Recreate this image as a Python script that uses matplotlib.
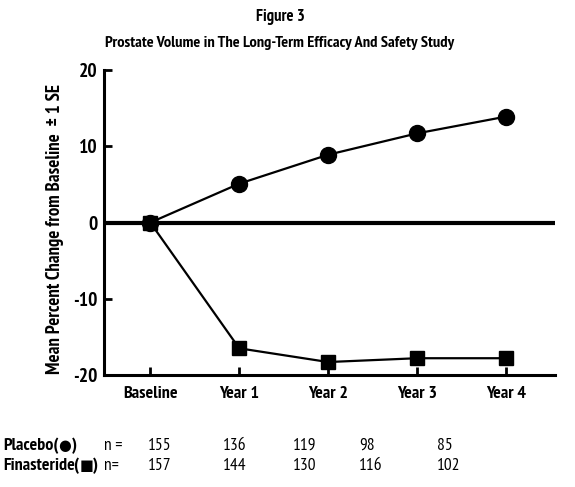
import numpy as np
import matplotlib.pyplot as plt

timepoints = ['Baseline', 'Year 1', 'Year 2', 'Year 3', 'Year 4']
placebo = [0, 5.1, 8.9, 11.7, 13.9]
finasteride = [0, -16.5, -18.3, -17.8, -17.8]
placebo_n = [155, 136, 119, 98, 85]
finasteride_n = [157, 144, 130, 116, 102]

plt.rcParams['font.family'] = ['PT Sans Narrow', 'DejaVu Sans']

fig = plt.figure(figsize=(5.75, 4.87), dpi=100)
ax = fig.add_axes([0.181, 0.230, 0.784, 0.626])

x = np.arange(len(timepoints))
ax.axhline(0, color='black', lw=3, zorder=1)
ax.plot(x, placebo, color='black', lw=1.6, marker='o', markersize=11.5, zorder=3)
ax.plot(x, finasteride, color='black', lw=1.6, marker='s', markersize=9.5, zorder=4)

ax.set_xlim(-0.52, 4.55)
ax.set_ylim(-20, 20)
ax.set_yticks([-20, -10, 0, 10, 20])
ax.set_yticklabels(['-20', '-10', '0', '10', '20'], fontsize=14, fontweight='bold')
ax.set_xticks(x)
ax.set_xticklabels(timepoints, fontsize=13, fontweight='bold')
ax.tick_params(direction='in', width=2, length=6)
ax.tick_params(axis='x', pad=8)
ax.tick_params(axis='y', pad=4.5)
for s in ['top', 'right']:
    ax.spines[s].set_visible(False)
for s in ['left', 'bottom']:
    ax.spines[s].set_linewidth(2.2)

ax.set_ylabel('Mean Percent Change from Baseline  \u00b1 1 SE', fontsize=13.5,
              fontweight='bold')
ax.yaxis.set_label_coords(-0.09, 0.48)

fig.text(0.487, 1 - 17 / 487, 'Figure 3', ha='center', va='center', fontsize=12, fontweight='bold')
fig.text(0.487, 1 - 43 / 487, 'Prostate Volume in The Long-Term Efficacy And Safety Study',
         ha='center', va='center', fontsize=11.8, fontweight='bold')

# n table below chart
row_y = [1 - 446 / 487, 1 - 466 / 487]
fig.text(0.005, row_y[0], 'Placebo(', fontsize=13, fontweight='bold', va='center')
fig.text(58 / 575, row_y[0], '\u25cf', fontsize=10.5, va='center', family='DejaVu Sans')
fig.text(72 / 575, row_y[0], ')', fontsize=13, fontweight='bold', va='center')
fig.text(0.005, row_y[1], 'Finasteride', fontsize=13, fontweight='bold', va='center')
fig.text(73 / 575, row_y[1], '(', fontsize=13, fontweight='bold', va='center')
fig.text(80 / 575, row_y[1], '\u25a0', fontsize=10.5, va='center', family='DejaVu Sans')
fig.text(93 / 575, row_y[1], ')', fontsize=13, fontweight='bold', va='center')
fig.text(104 / 575, row_y[0], 'n =', fontsize=12.5, va='center')
fig.text(104 / 575, row_y[1], 'n=', fontsize=12.5, va='center')
col_x = [148, 223, 293, 359, 437]
for cx, a, b in zip(col_x, placebo_n, finasteride_n):
    fig.text(cx / 575, row_y[0], str(a), fontsize=12.5, va='center')
    fig.text(cx / 575, row_y[1], str(b), fontsize=12.5, va='center')

fig.savefig('out.png', dpi=100)
